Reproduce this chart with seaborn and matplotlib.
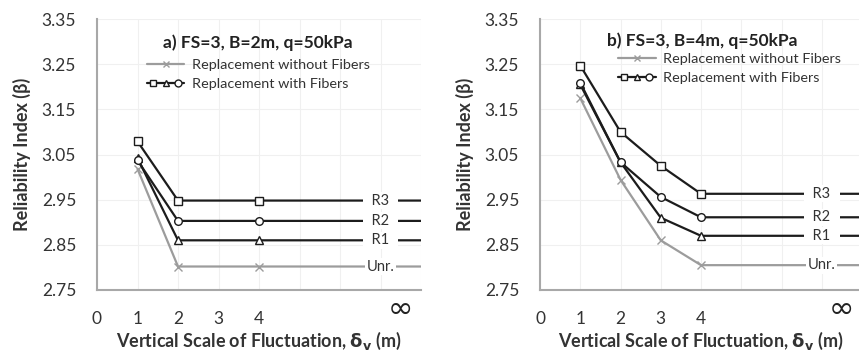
import numpy as np
import pandas as pd
import matplotlib
matplotlib.use("Agg")
import matplotlib.pyplot as plt
import seaborn as sns
from matplotlib.lines import Line2D
from matplotlib.legend_handler import HandlerTuple

# data (x = 8 stands for the infinity end of the axis)
INF_POS = 8
sof_a = [1, 2, 4, INF_POS]
unr_a = [3.018, 2.802, 2.802, 2.802]
r1_a = [3.042, 2.860, 2.860, 2.860]
r2_a = [3.037, 2.903, 2.903, 2.903]
r3_a = [3.079, 2.948, 2.948, 2.948]

sof_b = [1, 2, 3, 4, INF_POS]
unr_b = [3.175, 2.994, 2.860, 2.805, 2.805]
r1_b = [3.205, 3.033, 2.910, 2.870, 2.870]
r2_b = [3.209, 3.033, 2.956, 2.911, 2.911]
r3_b = [3.247, 3.100, 3.025, 2.963, 2.963]

series_names = ["Unr.", "R1", "R2", "R3"]
titles = ["a) FS=3, B=2m, q=50kPa", "b) FS=3, B=4m, q=50kPa"]
y_ticks = [2.75, 2.85, 2.95, 3.05, 3.15, 3.25, 3.35]
x_tick_labels = ["0", "1", "2", "3", "4", "", "", "", ""]

sns.set_style("white")
plt.rcParams["font.family"] = ["Lato", "DejaVu Sans"]
plt.rcParams["mathtext.fontset"] = "dejavusans"

gray = "#9c9c9c"
black = "#1c1c1c"
axis_col = "#a8a8a8"
styles = {
    "Unr.": dict(color=gray, marker="x", mfc=gray, label="Unr."),
    "R1": dict(color=black, marker="^", mfc="white", label="  R1  "),
    "R2": dict(color=black, marker="o", mfc="white", label="  R2  "),
    "R3": dict(color=black, marker="s", mfc="white", label="  R3  "),
}

fig = plt.figure(figsize=(8.59, 3.54), dpi=100)
ax_a = fig.add_axes([97 / 859, 1 - 290 / 354, 324 / 859, 271 / 354])
ax_b = fig.add_axes([540 / 859, 1 - 290 / 354, 322 / 859, 271 / 354])

panels = [
    (ax_a, sof_a, [unr_a, r1_a, r2_a, r3_a], titles[0]),
    (ax_b, sof_b, [unr_b, r1_b, r2_b, r3_b], titles[1]),
]

for ax, xs, ys, title in panels:
    for name, vals in zip(series_names, ys):
        st = styles[name]
        df = pd.DataFrame({"x": xs, "y": vals})
        sns.lineplot(data=df, x="x", y="y", ax=ax, color=st["color"], lw=1.6,
                     marker=st["marker"], markersize=5.5, mfc=st["mfc"],
                     mec=st["color"], mew=1.0, markevery=list(range(len(xs) - 1)))
        ax.text(7, vals[-1], st["label"], ha="center", va="center", fontsize=10.5,
                color="#333333",
                bbox=dict(facecolor="white", edgecolor="none", pad=1.0))

    ax.set_xlim(0, INF_POS)
    ax.set_ylim(2.75, 3.35)
    ax.set_xticks(range(0, 9))
    ax.set_xticklabels(x_tick_labels, fontsize=12.5, color="#333333")
    ax.set_yticks(y_ticks)
    ax.set_yticklabels([f"{v:.2f}" for v in y_ticks], fontsize=12.5, color="#333333")
    ax.tick_params(axis="x", length=5, width=1.2, color=axis_col, pad=10)
    ax.tick_params(axis="y", length=5, width=1.2, color=axis_col, pad=10)
    ax.grid(True, color="#f0f0f0", lw=0.8)
    for s in ["top", "right"]:
        ax.spines[s].set_visible(False)
    for s in ["left", "bottom"]:
        ax.spines[s].set_color(axis_col)
        ax.spines[s].set_linewidth(1.5)
    ax.set_xlabel(r"Vertical Scale of Fluctuation, $\mathbf{\delta_v}$ (m)",
                  fontsize=13, fontweight="bold", color="#333333", labelpad=2)
    ax.set_ylabel("Reliability Index (β)", fontsize=13, fontweight="bold",
                  color="#333333", labelpad=8)
    ax.text(7.5, -0.07, "∞", transform=ax.get_xaxis_transform(), ha="center",
            va="center", fontsize=22, color="#222222", family="DejaVu Sans",
            clip_on=False)

    h_without = Line2D([], [], color=gray, lw=1.6, marker="x", markersize=4.5, mec=gray)
    h_with = tuple(Line2D([], [], color=black, lw=1.6, marker=m, markersize=5,
                          mfc="white", mec=black, mew=1.0) for m in ["s", "^", "o"])
    leg_x = 0.154 if ax is ax_a else (618 - 540) / 322
    leg_y = 1 - (59 - 19) / 271 if ax is ax_a else 1 - (53 - 19) / 271
    ax.legend([h_without, h_with],
              ["Replacement without Fibers", "Replacement with Fibers"],
              handler_map={tuple: HandlerTuple(ndivide=None, pad=0)},
              loc="upper left", bbox_to_anchor=(leg_x, leg_y),
              frameon=False, fontsize=10.4, handlelength=2.6, handletextpad=0.5,
              labelspacing=0.5, borderpad=0, borderaxespad=0,
              labelcolor="#333333")

ax_a.text((258 - 97) / 324, 1 - (43 - 19) / 271, titles[0], transform=ax_a.transAxes,
          ha="center", va="center", fontsize=12.5, fontweight="bold", color="#222222")
ax_b.text((702 - 540) / 322, 1 - (41 - 19) / 271, titles[1], transform=ax_b.transAxes,
          ha="center", va="center", fontsize=12.5, fontweight="bold", color="#222222")

fig.savefig("out.png", dpi=100)
